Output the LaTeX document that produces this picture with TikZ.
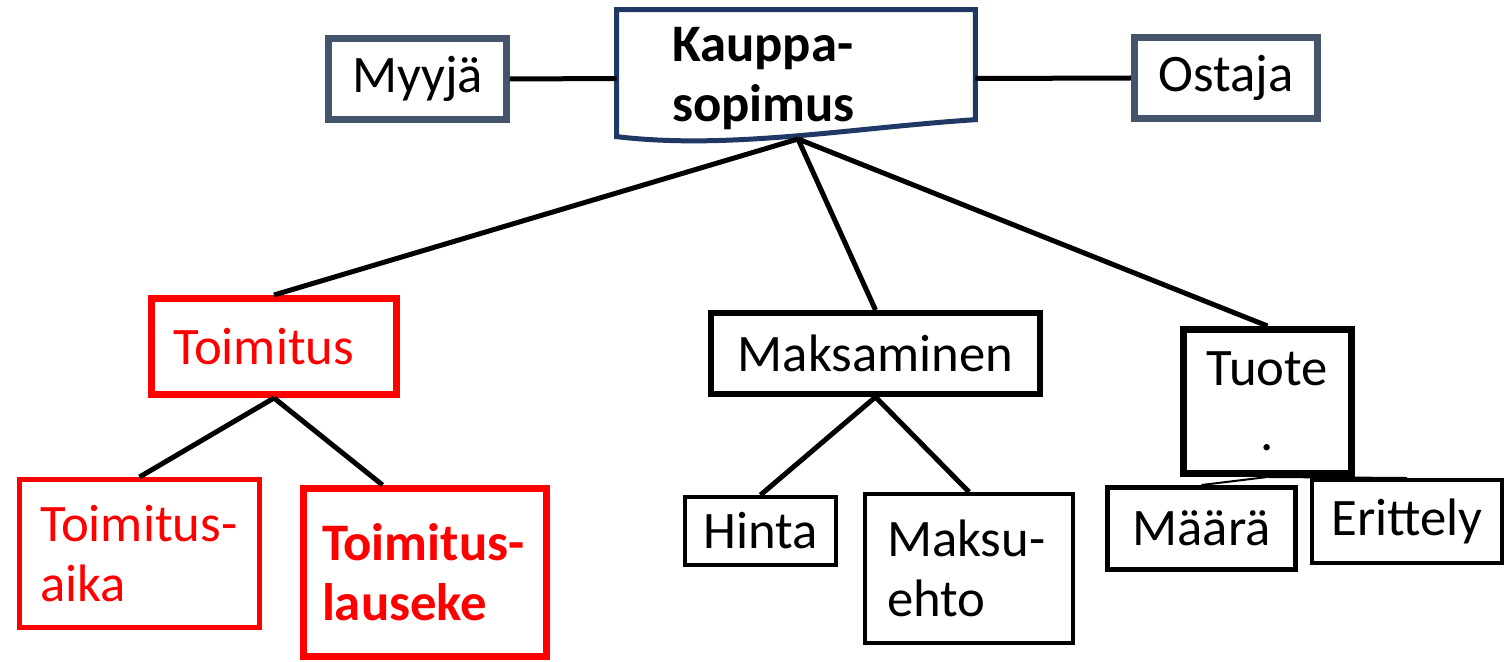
\documentclass[tikz,border=0pt]{standalone}
\usepackage{fontspec}
\setmainfont{Carlito}
\usetikzlibrary{calc}
\definecolor{partyblue}{HTML}{44546A}
\definecolor{docblue}{HTML}{1F3864}

\begin{document}
\begin{tikzpicture}[x=0.02cm, y=-0.02cm,
        every node/.style={font=\fontsize{30}{34}\selectfont, inner sep=0pt},
        party/.style={draw=partyblue, line width=0.14cm, rectangle},
        redbox/.style={draw=red, text=red, rectangle},
        blackbox/.style={draw=black, rectangle},
        link/.style={line width=0.1cm},
        thinlink/.style={line width=0.04cm}]
        \useasboundingbox (0,0) rectangle (1504,662);

        % top row
        \node[party, minimum width=3.56cm, minimum height=1.64cm] (myyja) at (417.5,79) {Myyjä};
        \node[party, minimum width=3.66cm, minimum height=1.62cm] (ostaja) at (1226,78) {Ostaja};
        \node[minimum width=7.16cm, minimum height=2.74cm, align=left, text width=4.96cm, inner xsep=1.1cm,
              font=\fontsize{30}{34}\selectfont\bfseries] (kauppa) at (796,78.5) {Kauppa-\\sopimus};
        \draw[draw=docblue, line width=0.1cm] (kauppa.north west) -- (kauppa.north east)
              -- ($(kauppa.north east)+(0,110)$) .. controls (850,128) and (730,150) .. ($(kauppa.north west)+(0,127)$) -- cycle;
        \coordinate (kfoot) at (798,139);

        % middle row
        \node[redbox, line width=0.14cm, minimum width=4.9cm, minimum height=1.92cm, align=left,
              text width=4.04cm, inner xsep=0.43cm] (toim) at (274,346.5) {Toimitus};
        \node[blackbox, line width=0.12cm, minimum width=6.58cm, minimum height=1.62cm] (maks) at (875.5,353.5) {Maksaminen};
        \node[blackbox, line width=0.14cm, minimum width=3.36cm, minimum height=2.88cm, align=center] (tuote) at (1267.5,401.5) {Tuote\\[0.1cm].};

        % bottom row
        \node[redbox, line width=0.1cm, minimum width=4.8cm, minimum height=2.96cm, align=left,
              text width=3.98cm, inner xsep=0.41cm] (taika) at (139.5,553.5) {Toimitus-\\aika};
        \node[redbox, line width=0.14cm, minimum width=4.86cm, minimum height=3.36cm, align=left,
              text width=4.12cm, inner xsep=0.37cm, font=\fontsize{30}{34}\selectfont\bfseries] (tlause) at (425,572.5) {Toimitus-\\lauseke};
        \node[blackbox, line width=0.08cm, minimum width=3.02cm, minimum height=1.36cm] (hinta) at (760.5,531) {Hinta};
        \node[blackbox, line width=0.08cm, minimum width=4.16cm, minimum height=2.98cm, align=left,
              text width=3.28cm, inner xsep=0.44cm] (mehto) at (969,568.5) {Maksu-\\ehto};
        \node[blackbox, line width=0.1cm, minimum width=3.76cm, minimum height=1.64cm] (maara) at (1201.5,528.5) {Määrä};
        \node[blackbox, line width=0.08cm, minimum width=3.8cm, minimum height=1.66cm] (erit) at (1407,521.5) {Erittely};

        % connectors
        \draw[link] (myyja.east) -- (kauppa.west);
        \draw[link] (kauppa.east) -- (ostaja.west);
        \draw[link] (kfoot) -- (toim.north);
        \draw[link] (kfoot) -- (maks.north);
        \draw[link] (kfoot) -- (tuote.north);
        \draw[link] (toim.south) -- (taika.north);
        \draw[link] (toim.south) -- ($(tlause.north west)!0.33!(tlause.north east)$);
        \draw[link] (maks.south) -- (hinta.north);
        \draw[link] (maks.south) -- (mehto.north);
        \draw[thinlink] (tuote.south) -- (maara.north);
        \draw[thinlink] (tuote.south) -- (erit.north);
    \end{tikzpicture}
\end{document}
